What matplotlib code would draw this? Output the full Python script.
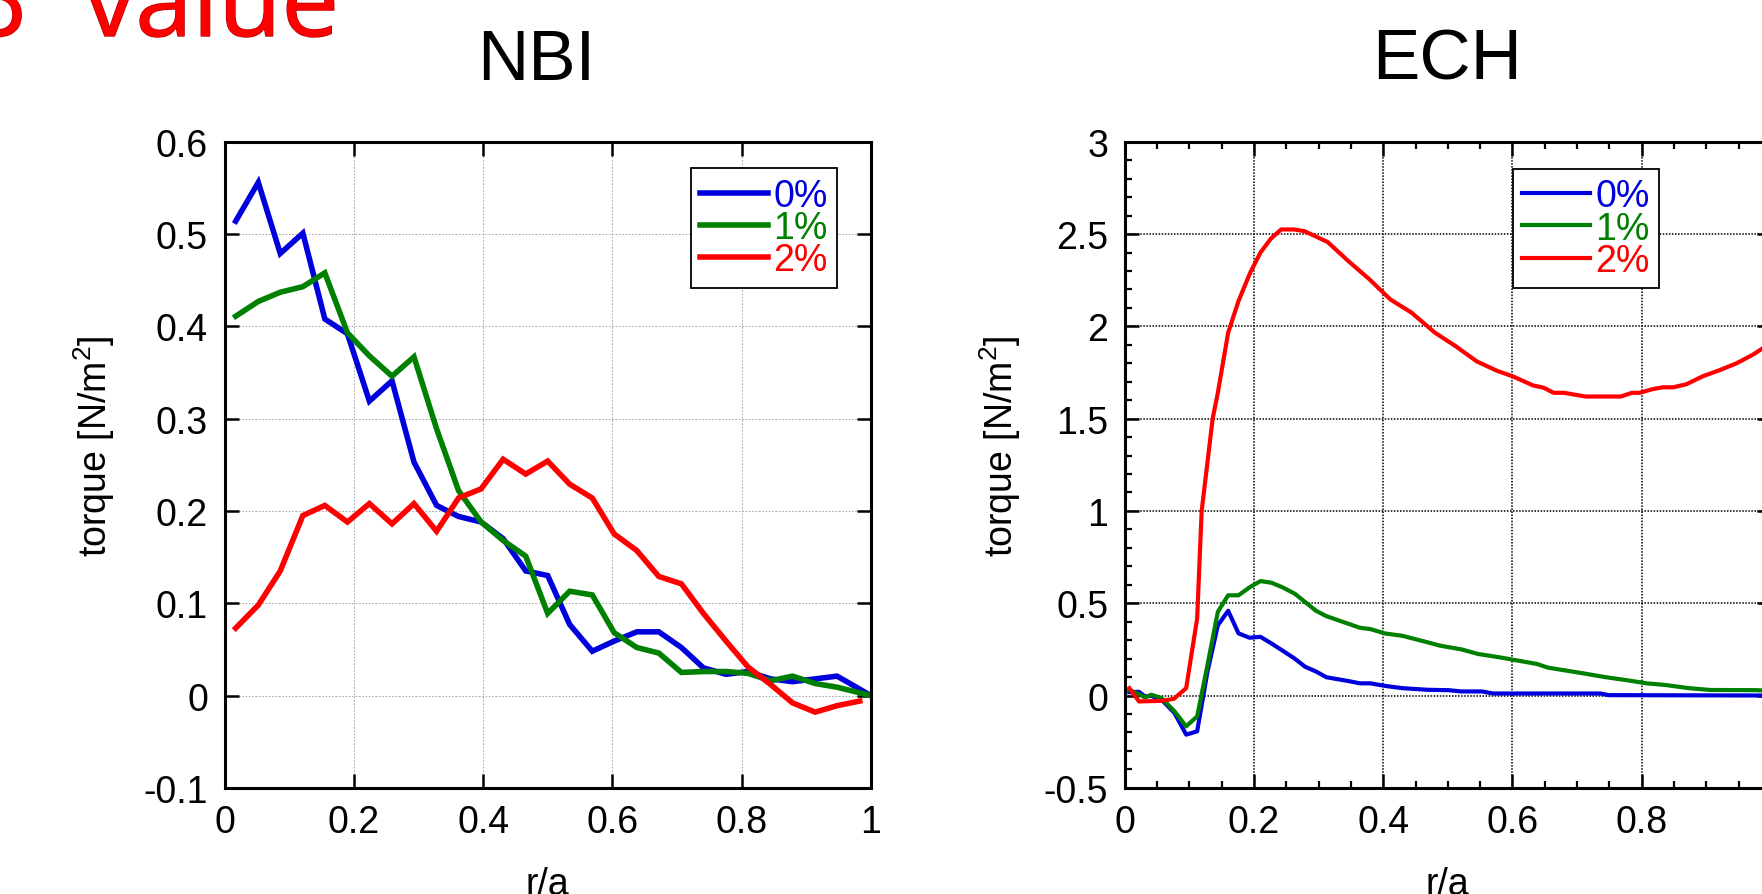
#!/usr/bin/env python3

import matplotlib
matplotlib.use('Agg')
import matplotlib.pyplot as plt
import matplotlib.patheffects as pe
from matplotlib import font_manager
from matplotlib.ticker import MultipleLocator, FuncFormatter

# ---- NBI torque profiles ----
r_nbi_2 = [0.017, 0.052, 0.086, 0.121, 0.155, 0.190, 0.224, 0.259, 0.293, 0.328,
           0.362, 0.397, 0.431, 0.466, 0.500, 0.534, 0.569, 0.603, 0.638, 0.672,
           0.707, 0.741, 0.776, 0.810, 0.845, 0.879, 0.914, 0.948, 0.983]
r_nbi_01 = [0.017, 0.052, 0.086, 0.121, 0.155, 0.190, 0.224, 0.259, 0.293, 0.328,
            0.362, 0.397, 0.431, 0.466, 0.500, 0.534, 0.569, 0.603, 0.638, 0.672,
            0.707, 0.741, 0.776, 0.810, 0.845, 0.879, 0.914, 0.948, 1.000]
nbi_0 = [0.514, 0.556, 0.479, 0.501, 0.408, 0.392, 0.319, 0.341, 0.253, 0.206,
         0.194, 0.188, 0.170, 0.135, 0.130, 0.077, 0.048, 0.059, 0.069, 0.069,
         0.052, 0.030, 0.023, 0.026, 0.018, 0.015, 0.018, 0.021, 0.000]
nbi_1 = [0.411, 0.427, 0.437, 0.443, 0.458, 0.393, 0.368, 0.346, 0.367, 0.289,
         0.222, 0.188, 0.168, 0.151, 0.089, 0.113, 0.109, 0.068, 0.052, 0.046,
         0.025, 0.026, 0.026, 0.024, 0.016, 0.021, 0.013, 0.009, 0.000]
nbi_2 = [0.073, 0.098, 0.135, 0.195, 0.206, 0.188, 0.208, 0.186, 0.208, 0.178,
         0.214, 0.224, 0.256, 0.240, 0.254, 0.229, 0.214, 0.175, 0.157, 0.129,
         0.121, 0.089, 0.059, 0.031, 0.012, -0.008, -0.018, -0.011, -0.006]

# ---- ECH torque profiles ----
r_ech_0 = [0.007, 0.022, 0.031, 0.041, 0.057, 0.077, 0.095, 0.112, 0.128, 0.144,
           0.160, 0.176, 0.193, 0.210, 0.227, 0.243, 0.263, 0.279, 0.296, 0.312,
           0.345, 0.364, 0.380, 0.403, 0.429, 0.469, 0.501, 0.521, 0.553, 0.570,
           0.736, 0.749, 1.000]
ech_0 = [0.018, 0.020, -0.005, -0.002, -0.023, -0.095, -0.212, -0.194, 0.130, 0.380,
         0.459, 0.337, 0.313, 0.318, 0.282, 0.246, 0.200, 0.156, 0.130, 0.099,
         0.079, 0.066, 0.066, 0.052, 0.040, 0.031, 0.029, 0.022, 0.022, 0.011,
         0.011, 0.002, 0.000]
r_ech_1 = [0.007, 0.022, 0.031, 0.041, 0.057, 0.077, 0.095, 0.112, 0.128, 0.144,
           0.160, 0.176, 0.194, 0.210, 0.227, 0.243, 0.263, 0.279, 0.296, 0.312,
           0.345, 0.364, 0.380, 0.403, 0.429, 0.449, 0.469, 0.488, 0.521, 0.547,
           0.580, 0.612, 0.638, 0.655, 0.678, 0.710, 0.743, 0.775, 0.808, 0.837,
           0.873, 0.906, 0.978, 1.000]
ech_1 = [0.030, 0.007, -0.010, 0.004, -0.014, -0.086, -0.167, -0.113, 0.165, 0.453,
         0.543, 0.543, 0.588, 0.620, 0.611, 0.588, 0.552, 0.507, 0.459, 0.430,
         0.390, 0.367, 0.360, 0.336, 0.324, 0.306, 0.288, 0.270, 0.250, 0.225,
         0.207, 0.187, 0.171, 0.151, 0.138, 0.120, 0.100, 0.084, 0.066, 0.057,
         0.040, 0.030, 0.029, 0.025]
r_ech_2 = [0.007, 0.022, 0.057, 0.076, 0.095, 0.112, 0.119, 0.136, 0.144, 0.160,
           0.176, 0.194, 0.210, 0.226, 0.242, 0.262, 0.278, 0.314, 0.346, 0.379,
           0.411, 0.444, 0.480, 0.512, 0.545, 0.577, 0.600, 0.632, 0.648, 0.664,
           0.680, 0.713, 0.768, 0.785, 0.797, 0.817, 0.833, 0.849, 0.869, 0.895,
           0.921, 0.947, 0.973, 1.000]
ech_2 = [0.040, -0.032, -0.029, -0.018, 0.040, 0.417, 1.000, 1.500, 1.640, 1.966,
         2.137, 2.290, 2.400, 2.475, 2.525, 2.525, 2.516, 2.457, 2.354, 2.254,
         2.146, 2.074, 1.966, 1.893, 1.810, 1.758, 1.730, 1.680, 1.668, 1.640,
         1.640, 1.620, 1.620, 1.640, 1.640, 1.660, 1.670, 1.670, 1.686, 1.730,
         1.763, 1.800, 1.848, 1.910]

labels = ['0%', '1%', '2%']
colors = ['#0000dd', '#008000', '#ff0000']

names = {f.name for f in font_manager.fontManager.ttflist}
NARROW = 'Liberation Sans Narrow' if 'Liberation Sans Narrow' in names else 'Liberation Sans'
plt.rcParams['font.family'] = [NARROW, 'DejaVu Sans']
plt.rcParams['mathtext.fontset'] = 'custom'
plt.rcParams['mathtext.rm'] = 'Liberation Sans'

W, H = 1762, 895


def fmt(v, pos):
    return '%g' % round(v, 3)


def fmt_ech_x(v, pos):
    # the r/a = 1 label falls outside the picture in the original
    return '' if v > 0.99 else '%g' % round(v, 3)


def style_axes(ax, minor):
    for s in ax.spines.values():
        s.set_linewidth(2.2)
    ax.tick_params(which='major', direction='in', length=10, width=1.8,
                   top=True, right=True, labelsize=27, pad=12)
    if minor:
        ax.tick_params(which='minor', direction='in', length=5, width=1.6,
                       top=True, right=True)
    ax.xaxis.set_major_formatter(FuncFormatter(fmt))
    ax.yaxis.set_major_formatter(FuncFormatter(fmt))


def add_legend(ax, lines, anchor, loc):
    leg = ax.legend(lines, labels, loc=loc, bbox_to_anchor=anchor, fontsize=27,
                    frameon=True, fancybox=False, edgecolor='black', framealpha=1,
                    handlelength=1.8, handletextpad=0.15, labelspacing=-0.1,
                    borderpad=0.25, borderaxespad=0)
    leg.get_frame().set_linewidth(1.3)
    for t, c in zip(leg.get_texts(), colors):
        t.set_color(c)


def main():
    fig = plt.figure(figsize=(W / 100, H / 100), dpi=100)

    # NBI panel
    ax1 = fig.add_axes([224.7 / W, 106.2 / H, 646 / W, 646 / H])
    l1 = []
    for r, y, c in zip([r_nbi_01, r_nbi_01, r_nbi_2], [nbi_0, nbi_1, nbi_2], colors):
        l1 += ax1.plot(r, y, color=c, lw=4.0, solid_joinstyle='miter')
    ax1.set_xlim(0, 1)
    ax1.set_ylim(-0.1, 0.6)
    ax1.xaxis.set_major_locator(MultipleLocator(0.2))
    ax1.yaxis.set_major_locator(MultipleLocator(0.1))
    ax1.grid(True, color='#999999', lw=0.6, ls=(0, (2, 2)))
    style_axes(ax1, False)
    add_legend(ax1, l1, (0.948, 0.959), 'upper right')

    # ECH panel
    ax2 = fig.add_axes([1124.8 / W, 106.2 / H, 646 / W, 646 / H])
    l2 = []
    for r, y, c in zip([r_ech_0, r_ech_1, r_ech_2], [ech_0, ech_1, ech_2], colors):
        l2 += ax2.plot(r, y, color=c, lw=3.0)
    ax2.set_xlim(0, 1)
    ax2.set_ylim(-0.5, 3)
    ax2.xaxis.set_major_locator(MultipleLocator(0.2))
    ax2.xaxis.set_minor_locator(MultipleLocator(0.05))
    ax2.yaxis.set_major_locator(MultipleLocator(0.5))
    ax2.yaxis.set_minor_locator(MultipleLocator(0.1))
    ax2.grid(True, which='major', color='black', lw=1.1, ls=(0, (1, 1)))
    style_axes(ax2, True)
    ax2.xaxis.set_major_formatter(FuncFormatter(fmt_ech_x))
    add_legend(ax2, l2, (0.601, 0.958), 'upper left')

    for ax, xl in [(ax1, -0.167), (ax2, -0.158)]:
        ax.set_ylabel('torque [N/m$^{2}$]', fontsize=27, family='Liberation Sans')
        ax.yaxis.set_label_coords(xl, 0.53)
        ax.set_xlabel('r/a', fontsize=27, family='Liberation Sans')
        ax.xaxis.set_label_coords(0.5, -0.121)

    # panel titles
    fig.text(536.6 / W, 1 - 80 / H, 'NBI', fontsize=51, ha='center', va='baseline')
    fig.text(1446.8 / W, 1 - 80 / H, 'ECH', fontsize=51, ha='center', va='baseline')

    # slide heading, cut by the top edge
    shadow = [pe.withStroke(linewidth=1, foreground='#b80000')]
    fig.text(26 / W, 1 - 37 / H, 'β', fontsize=74, color='#ff0000', ha='right',
             va='baseline', family='Open Sans', path_effects=shadow)
    fig.text(84 / W, 1 - 37 / H, 'value', fontsize=74, color='#ff0000', ha='left',
             va='baseline', family='Open Sans', path_effects=shadow)

    fig.savefig('out.png', dpi=100)


if __name__ == '__main__':
    main()
